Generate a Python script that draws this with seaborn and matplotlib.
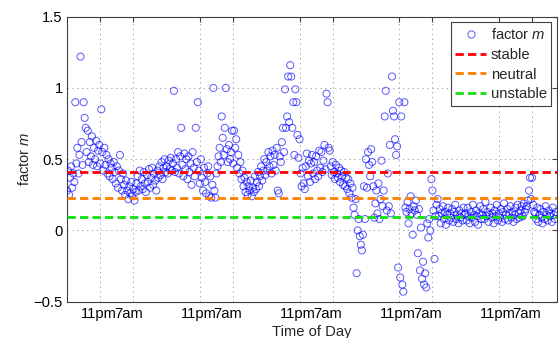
import numpy as np
import pandas as pd
import matplotlib
matplotlib.use("Agg")
import matplotlib.pyplot as plt
import matplotlib.transforms as mtransforms
import seaborn as sns

# Exponent m, sampled every 15 minutes starting at 3pm on the first day
day1_m = [
    0.28, 0.42, 0.25, 0.37, 0.45, 0.30, 0.40, 0.34,
    0.90, 0.47, 0.58, 0.40, 0.53, 1.22, 0.62, 0.46,
    0.90, 0.79, 0.72, 0.55, 0.70, 0.48, 0.62, 0.52,
    0.66, 0.46, 0.58, 0.50, 0.63, 0.45, 0.56, 0.60,
    0.47, 0.85, 0.55, 0.42, 0.58, 0.46, 0.53, 0.40,
    0.50, 0.38, 0.47, 0.44, 0.36, 0.48, 0.41, 0.33,
    0.45, 0.30, 0.42, 0.53, 0.36, 0.28, 0.40, 0.32,
    0.25, 0.35, 0.28, 0.22, 0.31, 0.26, 0.34, 0.24,
    0.29, 0.21, 0.27, 0.33, 0.38, 0.28, 0.42, 0.31,
    0.36, 0.29, 0.41, 0.33, 0.27, 0.39, 0.34, 0.43,
    0.30, 0.37, 0.44, 0.32, 0.40, 0.35, 0.28, 0.42,
    0.37, 0.45, 0.39, 0.48, 0.36, 0.44, 0.50, 0.41,
]
day2_m = [
    0.45, 0.40, 0.49, 0.43, 0.51, 0.42,
    0.47, 0.98, 0.41, 0.50,
    0.44, 0.55, 0.40, 0.52, 0.72,
    0.46, 0.38, 0.54, 0.43, 0.50, 0.36,
    0.52, 0.41, 0.47, 0.32, 0.55, 0.44, 0.38,
    0.72, 0.48, 0.90,
    0.42, 0.33, 0.50, 0.37, 0.28, 0.44,
    0.34, 0.26, 0.40, 0.45, 0.24, 0.38, 0.23, 0.32,
    1.00, 0.28, 0.23, 0.40,
    0.45, 0.52, 0.58, 0.48,
    0.80, 0.65, 0.53, 0.72, 1.00,
    0.57, 0.48, 0.60, 0.50, 0.55,
    0.70, 0.47, 0.70, 0.58, 0.64,
    0.44, 0.53, 0.40, 0.48, 0.36,
    0.42, 0.31, 0.37, 0.27, 0.34, 0.25, 0.31, 0.28,
    0.35, 0.24, 0.30, 0.27, 0.38, 0.29,
    0.34, 0.41, 0.31, 0.38, 0.45, 0.35,
    0.42, 0.50, 0.39,
]
day3_m = [
    0.48, 0.42, 0.55, 0.45, 0.52, 0.40, 0.56, 0.46, 0.53, 0.42, 0.58,
    0.28, 0.26,
    0.52, 0.48, 0.62, 0.72, 0.55, 0.99, 0.72, 0.80, 1.08, 0.76,
    1.16, 1.08, 0.72, 0.90, 0.53, 0.99, 0.90, 0.67, 0.51, 0.64,
    0.40, 0.31, 0.44, 0.33, 0.29, 0.45,
    0.54, 0.38, 0.49, 0.34, 0.47, 0.53, 0.40,
    0.48, 0.36, 0.52, 0.42, 0.38, 0.56, 0.44,
    0.55, 0.41, 0.49, 0.60, 0.43,
    0.96, 0.90, 0.58, 0.56,
    0.45, 0.39, 0.48, 0.41, 0.36, 0.46, 0.40,
    0.37, 0.44, 0.34, 0.42, 0.38, 0.32, 0.41,
    0.31, 0.37, 0.29, 0.36, 0.26,
    0.33, 0.23, 0.30, 0.16, 0.11,
    0.22, -0.30, 0.00, 0.08, -0.04, -0.10, -0.14, -0.03, 0.31, 0.08,
]
day4_m = [
    0.50, 0.30, 0.55, 0.46, 0.38, 0.57, 0.48,
    0.31, 0.09, 0.19, 0.28, 0.12, 0.33,
    0.08, 0.22, 0.49, 0.17, 0.28,
    0.80, 0.98, 0.14, 0.40, 0.17, 0.60, 0.12, 1.08, 0.84, 0.80,
    0.64, 0.53, 0.59, -0.26, 0.90, -0.33, 0.80, -0.38, -0.43, 0.90,
    0.16, 0.13, 0.20, 0.05, 0.15, 0.24, 0.12, -0.03, 0.17, 0.14,
    0.21, 0.11, -0.16, 0.15, -0.28, 0.02, -0.34, -0.22, -0.38, -0.30,
    -0.40, 0.05, -0.05, 0.08, 0.00, 0.36, 0.28, 0.14, -0.20, 0.10,
    0.18, 0.22,
    0.10, 0.15, 0.05, 0.12, 0.17, 0.08, 0.13, 0.04, 0.11, 0.16,
    0.07, 0.12, 0.09, 0.15, 0.06, 0.13, 0.18, 0.08, 0.11, 0.05,
    0.14, 0.09, 0.12, 0.07, 0.16, 0.11,
]
day5_m = [
    0.12, 0.07, 0.16, 0.10, 0.05, 0.13, 0.09, 0.18, 0.11, 0.06,
    0.14, 0.10, 0.04, 0.12, 0.17, 0.08, 0.11, 0.15, 0.08, 0.20,
    0.10, 0.13, 0.06, 0.11, 0.16, 0.09, 0.12, 0.05, 0.14, 0.10,
    0.18, 0.07, 0.12, 0.09, 0.15, 0.06, 0.13, 0.19, 0.08, 0.11,
    0.15, 0.07, 0.12, 0.17, 0.09, 0.13, 0.06, 0.11, 0.16, 0.08,
    0.18, 0.12, 0.09, 0.14, 0.17, 0.10, 0.19, 0.13, 0.15, 0.17,
    0.21, 0.28, 0.37, 0.22, 0.37, 0.18, 0.13,
    0.12, 0.08, 0.16, 0.06, 0.11, 0.15, 0.09, 0.05, 0.13, 0.08,
    0.17, 0.11, 0.07, 0.14, 0.10, 0.12, 0.06, 0.16, 0.11, 0.08, 0.13,
]
start_hour = 15.0
sample_step_hours = 0.25

# Reference exponents for the stability classes
stability_labels = ["stable", "neutral", "unstable"]
stability_m = [0.41, 0.225, 0.095]
stability_colors = ["#ff0000", "#ff8000", "#10e010"]

tick_hours = [23, 31, 47, 55, 71, 79, 95, 103, 119, 127]
tick_labels = ["11pm", "7am"] * 5
y_ticks = [-0.5, 0, 0.5, 1, 1.5]
y_tick_labels = ["\u22120.5", "0", "0.5", "1", "1.5"]

sns.set_style("white")
plt.rcParams["font.family"] = ["Liberation Sans", "DejaVu Sans"]
plt.rcParams["font.size"] = 10.6
plt.rcParams["mathtext.fontset"] = "custom"
plt.rcParams["mathtext.it"] = "Liberation Sans:italic"
plt.rcParams["mathtext.rm"] = "Liberation Sans"
plt.rcParams["lines.scale_dashes"] = False

m_values = np.concatenate([day1_m, day2_m, day3_m, day4_m, day5_m])
hours = start_hour + sample_step_hours * np.arange(len(m_values))
df = pd.DataFrame({"hour": hours, "m": m_values})

fig = plt.figure(figsize=(5.58, 3.38), dpi=100)
ax = fig.add_axes([67 / 558, 1 - 301.7 / 338, 490 / 558, 285 / 338])

sns.scatterplot(
    data=df, x="hour", y="m", ax=ax, marker="o", s=26,
    facecolors="none", edgecolor="#0000ff", linewidth=0.7, alpha=0.65,
    zorder=3, legend=False,
)

for lab, val, col in zip(stability_labels, stability_m, stability_colors):
    ax.axhline(val, color=col, linewidth=2.0, dashes=(6, 3), label=lab, zorder=4)

ax.set_xlim(15, 133)
ax.set_ylim(-0.5, 1.5)
ax.set_xticks(tick_hours)
ax.set_xticklabels(tick_labels)
ax.set_yticks(y_ticks)
ax.set_yticklabels(y_tick_labels)

ax.grid(True, color="#9a9a9a", linewidth=0.6, linestyle=(0, (1, 2.5)))
ax.set_axisbelow(True)
for sp in ax.spines.values():
    sp.set_visible(True)
    sp.set_color("#404040")
    sp.set_linewidth(0.8)
ax.tick_params(axis="both", direction="in", length=3.5, width=0.8,
               color="#404040", top=True, right=True, labelcolor="black")
ax.tick_params(axis="x", pad=4)
ax.tick_params(axis="y", pad=3)

# pull the evening/morning labels slightly together so they read as pairs
for lbl, txt in zip(ax.get_xticklabels(), tick_labels):
    dx = -1.5 if txt == "11pm" else -5.0
    shift = mtransforms.ScaledTranslation(dx / 100, 0, fig.dpi_scale_trans)
    lbl.set_transform(lbl.get_transform() + shift)

ax.set_xlabel("Time of Day")
ax.set_ylabel("factor $m$")
ax.xaxis.set_label_coords(0.5, -0.082)
ax.yaxis.set_label_coords(-0.071, 0.5)

scatter_handle = plt.Line2D([], [], marker="o", linestyle="none", markersize=5.2,
                            markerfacecolor="none", markeredgecolor="#0000ff",
                            markeredgewidth=0.7, alpha=0.65)
handles, labels = ax.get_legend_handles_labels()
line_handles = [h for h, l in zip(handles, labels) if l in stability_labels]
leg = ax.legend(
    [scatter_handle] + line_handles, ["factor $m$"] + stability_labels,
    loc="upper right", bbox_to_anchor=(0.988, 0.98), borderaxespad=0,
    frameon=True, fancybox=False, framealpha=1, edgecolor="#404040",
    handlelength=2.1, handletextpad=0.3, borderpad=0.3, labelspacing=0.4,
)
leg.get_frame().set_linewidth(0.8)

fig.savefig("out.png", dpi=100)
